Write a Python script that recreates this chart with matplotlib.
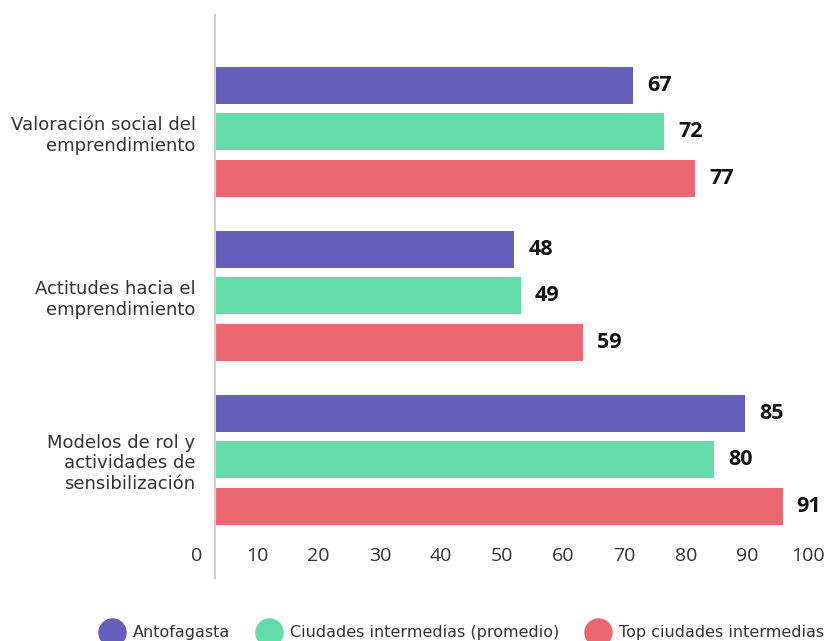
import numpy as np
import matplotlib
matplotlib.use("Agg")
import matplotlib.pyplot as plt
from matplotlib.lines import Line2D

plt.rcParams['font.family'] = ['DejaVu Sans']

categories = ["Valoración social del\nemprendimiento",
              "Actitudes hacia el\nemprendimiento",
              "Modelos de rol y\nactividades de\nsensibilización"]
series = ["Antofagasta", "Ciudades intermedias (promedio)", "Top ciudades intermedias"]
antofagasta = [67, 48, 85]
intermedias = [72, 49, 80]
top_ciudades = [77, 59, 91]
tick_values = list(range(0, 101, 10))
colors = ["#665EBB", "#63DCAA", "#EC6870"]

fig = plt.figure(figsize=(8.29, 6.41), dpi=100)
ax = fig.add_axes([0.2292, 0.0983, 0.7708, 0.8783])

y = np.arange(len(categories))
step = 0.2835
h = 0.2256
for i, vals in enumerate([antofagasta, intermedias, top_ciudades]):
    pos = y + (i - 1) * step
    ax.barh(pos, vals, height=h, color=colors[i], zorder=2)
    for p, v in zip(pos, vals):
        ax.annotate(str(v), (v, p), xytext=(10, 0), textcoords="offset points",
                    ha="left", va="center", fontsize=15.5, fontweight="bold",
                    color="#111111", family="Open Sans")

ax.set_xlim(-4.0, 98.4)
ax.set_ylim(2.72, -0.713)

# tick labels in the original sit a bit off the bar scale
ax.set_xticks([t * 0.981 - 3.0 for t in tick_values])
ax.set_xticklabels([str(t) for t in tick_values], family="Open Sans")
ax.tick_params(axis='x', length=0, pad=-22, labelsize=14, labelcolor="#333333")

ax.set_yticks(y)
ax.set_yticklabels(categories)
ax.tick_params(axis='y', length=0, pad=14, labelcolor="#333333", labelsize=13)
for lbl in ax.get_yticklabels():
    lbl.set_linespacing(0.97)

for s in ["top", "right", "bottom"]:
    ax.spines[s].set_visible(False)
ax.spines["left"].set_position(("data", 0))
ax.spines["left"].set_color("#d0d0d0")
ax.spines["left"].set_linewidth(1.5)

handles = [Line2D([0], [0], marker="o", linestyle="", markersize=19.5,
                  markerfacecolor=c, markeredgecolor=c) for c in colors]
fig.legend(handles, series, loc="center", bbox_to_anchor=(0.555, 1 - 633 / 641),
           ncol=3, frameon=False, fontsize=11.5, handletextpad=0.35,
           columnspacing=1.4, labelcolor="#333333")

fig.savefig("out.png", dpi=100)
